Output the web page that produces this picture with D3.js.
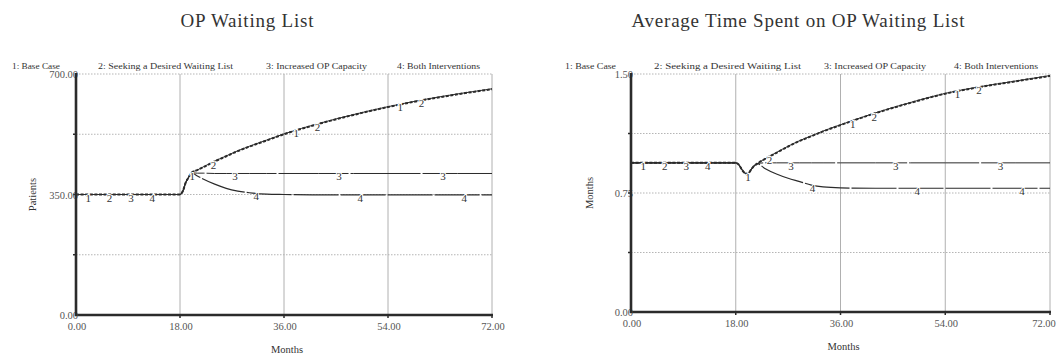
<!DOCTYPE html>
<html>
<head>
<meta charset="utf-8">
<script src="https://cdn.jsdelivr.net/npm/d3@7"></script>
<style>
  html, body { margin: 0; padding: 0; background: #fff; }
  svg { display: block; }
  text { font-family: "Liberation Serif", "Times New Roman", serif; }
</style>
</head>
<body>
<svg id="chart" width="1058" height="356"></svg>
<script>
// ---- data -------------------------------------------------------------
const seriesNames = ["Base Case", "Seeking a Desired Waiting List", "Increased OP Capacity", "Both Interventions"];
const monthTicks = [0, 18, 36, 54, 72];

// OP waiting list (patients)
const opMonths   = [0, 18, 18.5, 19, 19.5, 20, 21, 22, 24, 26, 28, 30, 33, 36, 42, 48, 54, 60, 66, 72];
const opBaseCase = [350, 350, 360, 385, 400, 413, 421, 430, 447, 462, 477, 490, 508, 526, 556, 582, 605, 625, 642, 657];
const opSeeking  = [350, 350, 360, 385, 400, 413, 421, 429, 446, 461, 476, 489, 507, 525, 555, 581, 604, 624, 641, 656];
const opCapacity = [350, 350, 360, 385, 400, 413, 412, 412, 411, 411, 411, 411, 411, 411, 411, 411, 411, 411, 411, 411];
const opBoth     = [350, 350, 360, 385, 400, 413, 404, 395, 380, 368, 360, 355, 351, 350, 349, 349, 349, 349, 349, 349];
const opYTicks   = [0, 350, 700];

// Average time spent on the OP waiting list (months)
const waitMonths   = [0, 18, 18.6, 19.1, 19.6, 20.1, 20.5, 21, 21.7, 23, 25, 27, 29, 31, 33, 36, 42, 48, 54, 60, 66, 72];
const waitBaseCase = [0.94, 0.94, 0.925, 0.895, 0.875, 0.87, 0.89, 0.915, 0.935, 0.965, 1.005, 1.045, 1.08, 1.11, 1.14, 1.18, 1.255, 1.32, 1.378, 1.42, 1.455, 1.49];
const waitSeeking  = [0.94, 0.94, 0.925, 0.895, 0.875, 0.87, 0.89, 0.915, 0.935, 0.964, 1.003, 1.043, 1.078, 1.108, 1.138, 1.178, 1.253, 1.318, 1.376, 1.418, 1.453, 1.488];
const waitCapacity = [0.94, 0.94, 0.925, 0.895, 0.875, 0.87, 0.89, 0.915, 0.935, 0.94, 0.94, 0.94, 0.94, 0.94, 0.94, 0.94, 0.94, 0.94, 0.94, 0.94, 0.94, 0.94];
const waitBoth     = [0.94, 0.94, 0.925, 0.895, 0.875, 0.87, 0.89, 0.915, 0.935, 0.905, 0.87, 0.843, 0.822, 0.80, 0.788, 0.782, 0.78, 0.78, 0.78, 0.78, 0.78, 0.78];
const waitYTicks   = [0, 0.75, 1.5];

// ---- drawing ------------------------------------------------------------
const svg = d3.select("#chart");
const ink = "#2b2b2b";
const lineStyles = [
  { width: 1.0, dash: null },
  { width: 2.0, dash: "3,1.6" },
  { width: 1.0, dash: "70,2" },
  { width: 1.2, dash: "45,2" }
];

function interp(xs, ys, m) {
  const i = Math.max(1, d3.bisectRight(xs, m));
  const j = Math.min(i, xs.length - 1);
  const t = (m - xs[j - 1]) / (xs[j] - xs[j - 1]);
  return ys[j - 1] + (ys[j] - ys[j - 1]) * Math.max(0, Math.min(1, t));
}

function drawPanel(p) {
  const g = svg.append("g");
  const x = d3.scaleLinear().domain([0, 72]).range([p.left, p.right]);
  const y = d3.scaleLinear().domain([0, p.yMax]).range([p.bottom, p.top]);

  // title
  g.append("text").attr("x", p.titleX).attr("y", 27)
    .attr("text-anchor", "middle").attr("font-size", 19).attr("fill", "#333")
    .attr("textLength", p.titleLen).attr("lengthAdjust", "spacing")
    .text(p.title);

  // legend
  seriesNames.forEach((name, i) => {
    g.append("text").attr("x", p.legendX[i]).attr("y", 69)
      .attr("font-size", 8.5).attr("fill", "#333")
      .attr("textLength", p.legendLen[i]).attr("lengthAdjust", "spacingAndGlyphs")
      .text(`${i + 1}: ${name}`);
  });

  // horizontal dotted grid at quarter values
  const quarter = d3.range(1, 5).map(k => p.yMax * k / 4);
  g.selectAll(null).data(quarter).join("line")
    .attr("x1", p.left).attr("x2", p.right)
    .attr("y1", d => y(d)).attr("y2", d => y(d))
    .attr("stroke", "#b5b5b5").attr("stroke-width", 1).attr("stroke-dasharray", "1.5,1.5");

  // vertical grid
  g.selectAll(null).data(monthTicks.slice(1)).join("line")
    .attr("x1", d => x(d)).attr("x2", d => x(d))
    .attr("y1", p.top).attr("y2", p.bottom)
    .attr("stroke", "#b0b0b0").attr("stroke-width", 1);

  // series lines
  const line = d3.line().curve(d3.curveMonotoneX)
    .x(d => x(d[0])).y(d => y(d[1]));
  const layer = g.append("g");
  p.series.forEach((vals, i) => {
    const pts = p.months.map((m, k) => [m, vals[k]]);
    layer.append("path").datum(pts).attr("d", line)
      .attr("fill", "none").attr("stroke", ink)
      .attr("stroke-width", lineStyles[i].width)
      .attr("stroke-dasharray", lineStyles[i].dash);
  });

  // numbered series markers, four sets spaced along the time axis
  const labels = [];
  for (let s = 0; s < 4; s++) {
    for (let i = 0; i < 4; i++) {
      const m = 2.1 + 18 * s + 3.7 * i;
      labels.push({ m, i, v: interp(p.months, p.series[i], m) });
    }
  }
  g.selectAll(null).data(labels).join("text")
    .attr("x", d => x(d.m)).attr("y", d => y(d.v) + 7)
    .attr("text-anchor", "middle").attr("font-size", 11)
    .attr("fill", "#333").attr("stroke", "#fff").attr("stroke-width", 2)
    .attr("paint-order", "stroke")
    .text(d => d.i + 1);

  // axes
  g.append("line").attr("x1", p.left - 1).attr("x2", p.right + 1)
    .attr("y1", p.bottom).attr("y2", p.bottom)
    .attr("stroke", ink).attr("stroke-width", 2.6);

  // small tick marks
  g.selectAll(null).data(quarter.slice(0, 3)).join("line")
    .attr("x1", p.left - 3).attr("x2", p.left)
    .attr("y1", d => y(d)).attr("y2", d => y(d))
    .attr("stroke", ink).attr("stroke-width", 1.5);
  g.selectAll(null).data(monthTicks.slice(1)).join("line")
    .attr("x1", d => x(d)).attr("x2", d => x(d))
    .attr("y1", p.bottom).attr("y2", p.bottom + 3)
    .attr("stroke", ink).attr("stroke-width", 1.5);

  // tick labels (the y axis is drawn afterwards, over their last glyph)
  const fmt = d3.format(".2f");
  g.selectAll(null).data(p.yTicks).join("text")
    .attr("x", p.left + 2).attr("y", d => y(d) + 4)
    .attr("text-anchor", "end").attr("font-size", 10.5).attr("fill", "#555")
    .text(d => fmt(d));
  g.append("line").attr("x1", p.left).attr("x2", p.left)
    .attr("y1", p.top - 1).attr("y2", p.bottom + 1)
    .attr("stroke", ink).attr("stroke-width", 2.6);

  g.selectAll(null).data(monthTicks).join("text")
    .attr("x", d => Math.min(x(d) + 1, 1058 - 14)).attr("y", p.bottom + 15)
    .attr("text-anchor", "middle").attr("font-size", 10.5).attr("fill", "#555")
    .text(d => fmt(d));

  // axis titles
  g.append("text").attr("x", (p.left + p.right) / 2 + 3).attr("y", p.bottom + 38)
    .attr("text-anchor", "middle").attr("font-size", 10.5).attr("fill", "#333")
    .text("Months");
  g.append("text")
    .attr("transform", `translate(${p.yTitleX},${(p.top + p.bottom) / 2}) rotate(-90)`)
    .attr("text-anchor", "middle").attr("font-size", 10.5).attr("fill", "#333")
    .text(p.yTitle);
}

drawPanel({
  title: "OP Waiting List", titleX: 247, titleLen: 133,
  legendX: [12, 98, 266, 397], legendLen: [48, 135, 101, 83],
  left: 76, right: 492, top: 74, bottom: 315,
  yMax: 700, yTicks: opYTicks, yTitle: "Patients", yTitleX: 36,
  months: opMonths, series: [opBaseCase, opSeeking, opCapacity, opBoth]
});

drawPanel({
  title: "Average Time Spent on OP Waiting List", titleX: 798, titleLen: 333,
  legendX: [565, 654, 824, 954], legendLen: [51, 147, 102, 84],
  left: 631, right: 1050, top: 74, bottom: 312,
  yMax: 1.5, yTicks: waitYTicks, yTitle: "Months", yTitleX: 593,
  months: waitMonths, series: [waitBaseCase, waitSeeking, waitCapacity, waitBoth]
});
</script>
</body>
</html>
